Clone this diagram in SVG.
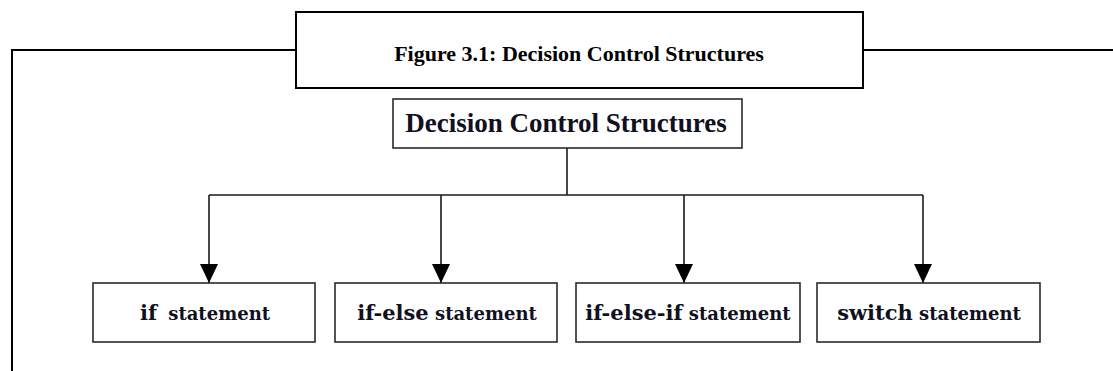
<svg xmlns="http://www.w3.org/2000/svg" width="1113" height="371" viewBox="0 0 1113 371">
  <style>
    .frame { fill: none; stroke: #000; stroke-width: 2; }
    .box { fill: #fff; stroke: #2a2a2a; stroke-width: 1.6; }
    .wire { fill: none; stroke: #1a1a1a; stroke-width: 1.6; }
    .caption { font-family: "Liberation Serif", serif; font-weight: bold; font-size: 22px; fill: #000; }
    .head { font-family: "Liberation Serif", serif; font-weight: bold; font-size: 27px; fill: #101020; }
    .label { font-family: "DejaVu Serif", serif; font-weight: bold; fill: #101020; }
    .kw { font-size: 21px; }
    .st { font-size: 18px; }
  </style>
  <defs>
    <marker id="arrow" viewBox="0 -9 19 18" refX="19" refY="0" markerWidth="19" markerHeight="18" markerUnits="userSpaceOnUse" orient="auto">
      <path d="M0,-9 L19,0 L0,9 z" fill="#000"/>
    </marker>
  </defs>

  <!-- outer frame with caption tab -->
  <g id="frame">
    <path class="frame" d="M296,50 H12 V371"/>
    <path class="frame" d="M863,50 H1113"/>
  </g>
  <g id="caption">
    <rect class="frame" x="296" y="12" width="567" height="76"/>
    <text class="caption" x="579" y="61" text-anchor="middle">Figure 3.1: Decision Control Structures</text>
  </g>

  <!-- connectors -->
  <g id="connectors">
    <path class="wire" d="M567,148 V195"/>
    <path class="wire" d="M209,195 H923"/>
    <path class="wire" d="M209,195 V283" marker-end="url(#arrow)"/>
    <path class="wire" d="M441,195 V283" marker-end="url(#arrow)"/>
    <path class="wire" d="M684,195 V283" marker-end="url(#arrow)"/>
    <path class="wire" d="M923,195 V283" marker-end="url(#arrow)"/>
  </g>

  <!-- root node -->
  <g id="root">
    <rect class="box" x="393" y="99" width="349" height="49"/>
    <text class="head" x="566" y="132" text-anchor="middle">Decision Control Structures</text>
  </g>

  <!-- statement nodes -->
  <g id="if">
    <rect class="box" x="93" y="283" width="222" height="59"/>
    <text class="label" x="205" y="320" text-anchor="middle"><tspan class="kw">if</tspan><tspan class="st" dx="5"> statement</tspan></text>
  </g>
  <g id="if-else">
    <rect class="box" x="335" y="283" width="222" height="59"/>
    <text class="label" x="447" y="320" text-anchor="middle"><tspan class="kw">if-else</tspan><tspan class="st"> statement</tspan></text>
  </g>
  <g id="if-else-if">
    <rect class="box" x="576" y="283" width="224" height="59"/>
    <text class="label" x="688" y="320" text-anchor="middle"><tspan class="kw">if-else-if</tspan><tspan class="st"> statement</tspan></text>
  </g>
  <g id="switch">
    <rect class="box" x="817" y="283" width="223" height="59"/>
    <text class="label" x="929" y="320" text-anchor="middle"><tspan class="kw">switch</tspan><tspan class="st"> statement</tspan></text>
  </g>
</svg>
